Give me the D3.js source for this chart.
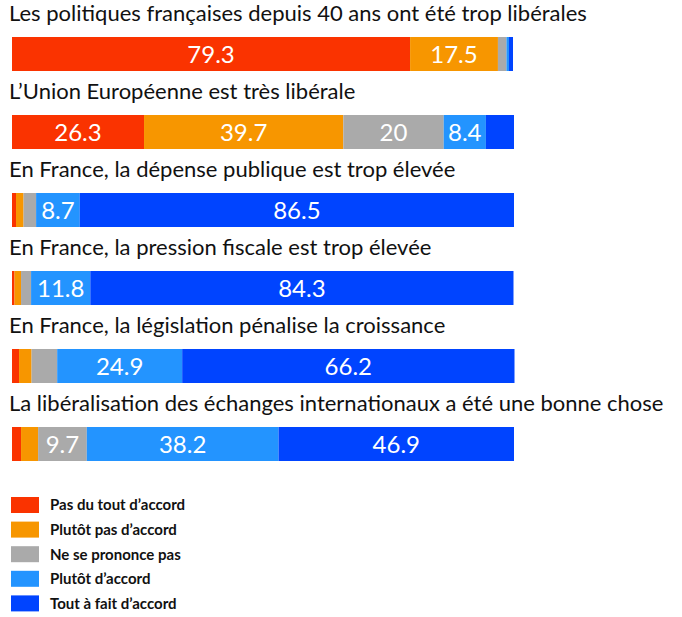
<!DOCTYPE html>
<html>
<head>
<meta charset="utf-8">
<script src="https://d3js.org/d3.v7.min.js"></script>
<style>
  * { margin: 0; padding: 0; box-sizing: border-box; }
  html, body { width: 682px; height: 617px; background: #ffffff; overflow: hidden; }
  svg { display: block; }
</style>
</head>
<body>
<div id="chart"></div>
<script>
// statements (one bar each)
const questions = [
  "Les politiques françaises depuis 40 ans ont été trop libérales",
  "L\u2019Union Européenne est très libérale",
  "En France, la dépense publique est trop élevée",
  "En France, la pression fiscale est trop élevée",
  "En France, la législation pénalise la croissance",
  "La libéralisation des échanges internationaux a été une bonne chose"
];

// answer categories, in stacking order
const answers = [
  "Pas du tout d\u2019accord",
  "Plutôt pas d\u2019accord",
  "Ne se prononce pas",
  "Plutôt d\u2019accord",
  "Tout à fait d\u2019accord"
];

// percentages per answer, one value per question
const pasDuTout    = [79.3, 26.3, 0.8, 0.5, 1.4, 1.8];
const plutotPas    = [17.5, 39.7, 1.5, 1.3, 2.5, 3.4];
const neSePrononce = [1.7, 20.0, 2.5, 2.0, 5.1, 9.7];
const plutotDac    = [0.5, 8.4, 8.7, 11.8, 24.9, 38.2];
const toutAFait    = [0.8, 5.6, 86.5, 84.3, 66.2, 46.9];

const colors = ["#FA3300", "#F79600", "#AAAAAA", "#2394FF", "#0044FF"];

const width = 682, height = 617;
const font = 'Lato, "Open Sans", sans-serif';
const svg = d3.select('#chart').append('svg')
  .attr('width', width).attr('height', height);

const rows = questions.map((q, i) => ({
  question: q,
  values: [pasDuTout[i], plutotPas[i], neSePrononce[i], plutotDac[i], toutAFait[i]]
}));

// horizontal scale: 0-100 %
const x = d3.scaleLinear().domain([0, 100]).range([12, 514]);
// top of each bar
const y = d3.scaleLinear().domain([0, questions.length - 1]).range([37, 427]);
const barH = 34;

const colorScale = d3.scaleOrdinal().domain(answers).range(colors);

const row = svg.selectAll('.row').data(rows).join('g')
  .attr('class', 'row')
  .attr('transform', (d, i) => `translate(0, ${y(i)})`);

row.append('text')
  .attr('x', 9)
  .attr('y', -16)
  .attr('font-family', font)
  .attr('font-size', 22)
  .attr('fill', '#111')
  .text(d => d.question);

const segs = row.selectAll('.seg').data(d => {
  let acc = 0;
  return d.values.map((v, k) => {
    const s = { start: acc, value: v, key: answers[k] };
    acc += v;
    return s;
  });
}).join('g').attr('class', 'seg');

segs.append('rect')
  .attr('x', d => x(d.start))
  .attr('y', 0)
  .attr('width', d => x(d.start + d.value) - x(d.start))
  .attr('height', barH)
  .attr('fill', d => colorScale(d.key));

// only segments wide enough get a value label
segs.filter(d => d.value >= 8).append('text')
  .attr('x', d => (x(d.start) + x(d.start + d.value)) / 2)
  .attr('y', barH / 2)
  .attr('dy', '0.36em')
  .attr('text-anchor', 'middle')
  .attr('font-family', font)
  .attr('font-size', 24)
  .attr('fill', '#ffffff')
  .text(d => d3.format('~f')(d.value));

// legend
const legend = svg.append('g').attr('transform', 'translate(11, 497)');
const li = legend.selectAll('.li').data(answers).join('g')
  .attr('class', 'li')
  .attr('transform', (d, i) => `translate(0, ${i * 24.6})`);

li.append('rect')
  .attr('width', 28).attr('height', 16)
  .attr('fill', d => colorScale(d));

li.append('text')
  .attr('x', 39)
  .attr('y', 8)
  .attr('dy', '0.36em')
  .attr('font-family', font)
  .attr('font-weight', 'bold')
  .attr('font-size', 15)
  .attr('fill', '#111')
  .text(d => d);
</script>
</body>
</html>
